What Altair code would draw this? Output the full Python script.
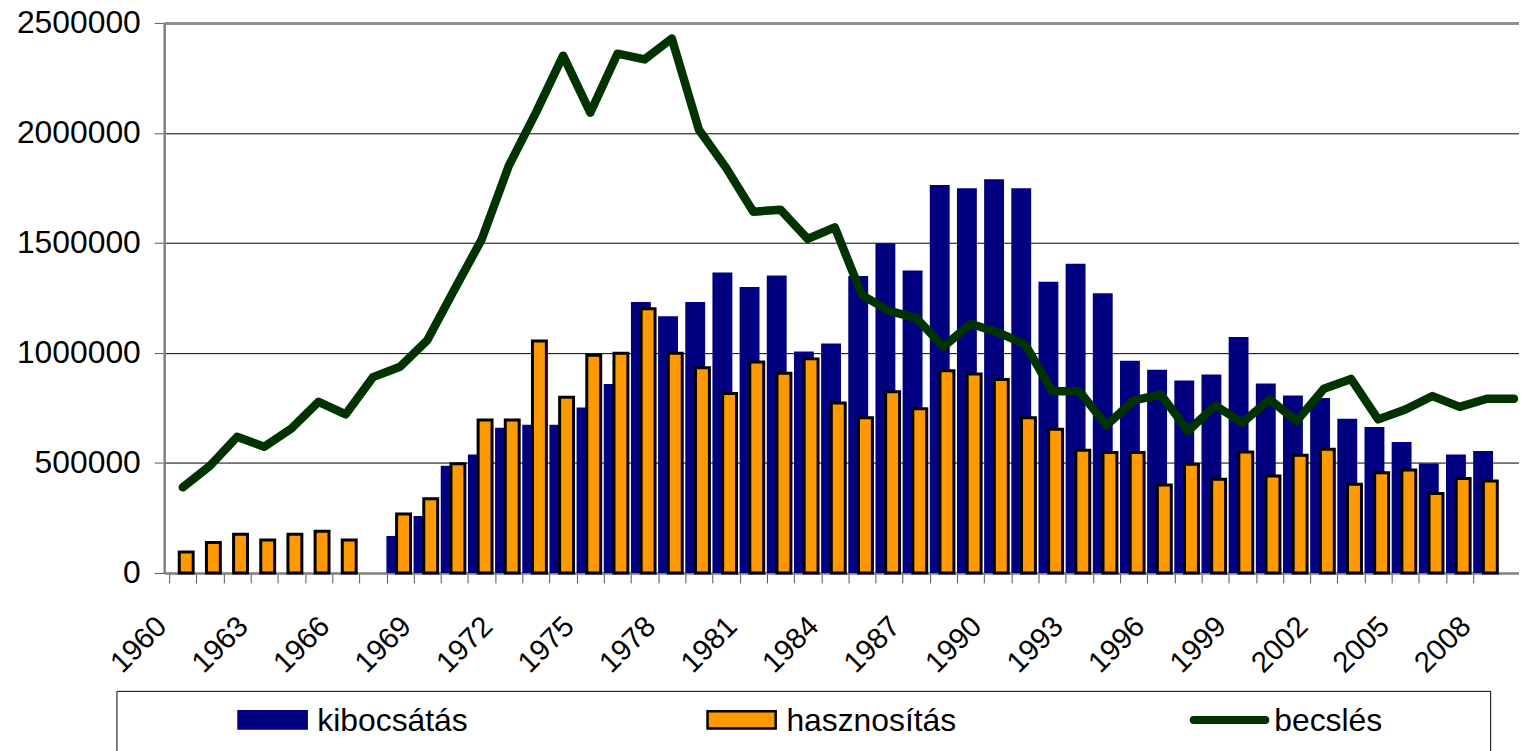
import altair as alt
import pandas as pd

years = list(range(1960, 2010))
series_names = ["kibocsátás", "hasznosítás", "becslés"]
series_colors = ["#000080", "#FF9900", "#003300"]
series_strokes = ["#000080", "#000000", "#003300"]

# 1960..2008 (None = no bar)
kibocsatas = [None, None, None, None, None, None, None, None,
              168000, 259000, 487000, 539000, 660000, 674000, 674000, 752000, 859000, 1231000,
              1167000, 1231000, 1366000, 1300000, 1352000, 1006000, 1043000, 1350000, 1498000,
              1375000, 1763000, 1748000, 1789000, 1748000, 1323000, 1405000, 1271000, 965000,
              924000, 875000, 902000, 1072000, 861000, 807000, 795000, 701000, 663000, 595000,
              498000, 539000, 554000]
hasznositas = [95000, 138000, 176000, 150000, 176000, 190000, 150000, None,
               268000, 337000, 496000, 695000, 695000, 1054000, 799000, 989000, 999000, 1201000,
               999000, 933000, 816000, 959000, 908000, 973000, 772000, 705000, 824000,
               746000, 919000, 904000, 879000, 705000, 653000, 558000, 547000, 547000,
               400000, 494000, 426000, 550000, 441000, 535000, 562000, 403000, 456000, 468000,
               361000, 429000, 418000]
# 1960..2009
becsles = [389000, 487000, 619000, 574000, 657000, 778000, 721000, 890000, 937000, 1058000,
           1288000, 1515000, 1850000, 2092000, 2351000, 2092000, 2360000, 2334000, 2429000, 2014000,
           1841000, 1642000, 1651000, 1518000, 1571000, 1263000, 1191000, 1158000, 1028000, 1133000,
           1093000, 1040000, 826000, 826000, 671000, 784000, 811000, 645000, 761000, 683000,
           789000, 690000, 837000, 882000, 698000, 743000, 804000, 755000, 792000, 792000]

label_years = list(range(1960, 2009, 3))
boundaries = [y - 0.5 for y in years[:-1]]
y_ticks = [0, 500000, 1000000, 1500000, 2000000, 2500000]

blue_df = pd.DataFrame({"year": years[:len(kibocsatas)], "value": kibocsatas, "series": series_names[0]}).dropna()
orange_df = pd.DataFrame({"year": years[:len(hasznositas)], "value": hasznositas, "series": series_names[1]}).dropna()
line_df = pd.DataFrame({"year": years, "value": becsles, "series": series_names[2]})

FONT = "Liberation Sans"

rect_path = "M-0.965,-0.55H0.965V-0.058H-0.965Z"
line_path = ("M-1.014,-0.3815H1.014A0.0775,0.0775 0 0 1 1.014,-0.2265"
             "H-1.014A0.0775,0.0775 0 0 1 -1.014,-0.3815Z")

legend = alt.Legend(
    title=" ",
    titleOrient="right",
    titlePadding=108,
    titleFontSize=10,
    orient="none",
    legendX=-48,
    legendY=671.5,
    direction="horizontal",
    columns=3,
    gridAlign="each",
    columnPadding=117.5,
    padding=0,
    clipHeight=80,
    strokeColor="#000000",
    fillColor="#ffffff",
    labelFont=FONT,
    labelFontSize=32,
    labelColor="#000000",
    labelLimit=400,
    labelBaseline="alphabetic",
    symbolSize=5041,
    symbolOffset=120,
    labelOffset=8,
    symbolType=alt.ExprRef(expr=f"datum.index === 2 ? '{line_path}' : '{rect_path}'"),
    symbolStrokeWidth=2.5,
    symbolOpacity=1,
)

color = alt.Color("series:N",
                  scale=alt.Scale(domain=series_names, range=series_colors),
                  legend=legend)
stroke = alt.Stroke("series:N",
                    scale=alt.Scale(domain=series_names, range=series_strokes),
                    legend=legend)

x_enc = alt.X("year:Q",
              scale=alt.Scale(domain=[1959.5, 2009], nice=False, zero=False),
              axis=alt.Axis(
                  title=None,
                  values=boundaries + label_years,
                  labelExpr="datum.value % 1 === 0 ? format(datum.value, 'd') : ''",
                  labelAngle=-45,
                  labelAlign="right",
                  labelBaseline="alphabetic",
                  labelOffset=-15,
                  labelPadding=45,
                  labelFont=FONT,
                  labelFontSize=29.5,
                  labelColor="#000000",
                  labelOverlap=False,
                  labelBound=False,
                  labelFlush=False,
                  tickSize=10,
                  tickColor="#555555",
                  tickWidth=1,
                  tickOpacity={"condition": {"test": "datum.value % 1 === 0", "value": 0}, "value": 1},
                  domainColor="#808080",
                  domainWidth=2.5,
                  grid=False,
              ))

y_enc = alt.Y("value:Q",
              scale=alt.Scale(domain=[0, 2500000], nice=False),
              axis=alt.Axis(
                  title=None,
                  values=y_ticks,
                  format="d",
                  labelFont=FONT,
                  labelFontSize=32,
                  labelColor="#000000",
                  labelPadding=14,
                  tickSize=10,
                  tickColor="#555555",
                  domainColor="#808080",
                  domainWidth=2.5,
                  grid=True,
                  gridColor={"condition": {"test": "datum.value === 2500000", "value": "#909090"}, "value": "#000000"},
                  gridWidth={"condition": {"test": "datum.value === 2500000", "value": 3}, "value": 1},
              ))

blue = alt.Chart(blue_df).mark_bar(orient="vertical", width=20, xOffset=-3.75, strokeWidth=0).encode(
    x=x_enc, y=y_enc, color=color, stroke=stroke)
orange = alt.Chart(orange_df).mark_bar(orient="vertical", width=14, xOffset=3.5,
                                       strokeWidth=3).encode(
    x=x_enc, y=y_enc, color=color, stroke=stroke)
line = alt.Chart(line_df).mark_line(strokeWidth=8.5, strokeJoin="round", strokeCap="round").encode(
    x=x_enc, y=y_enc, color=color, stroke=stroke)

chart = alt.layer(blue, orange, line).properties(
    width=1362,
    height=553,
    autosize=alt.AutoSizeParams(type="none"),
    padding={"left": 157, "top": 13, "right": 0, "bottom": 177},
).configure_view(stroke=None).configure(background="#ffffff")

chart.save("out.html", embed_options={"renderer": "svg", "actions": False})
